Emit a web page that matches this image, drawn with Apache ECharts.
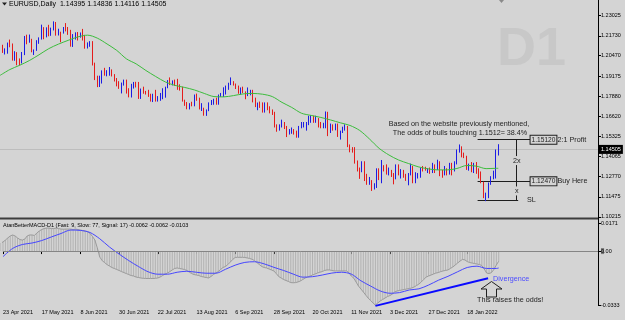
<!DOCTYPE html>
<html><head><meta charset="utf-8">
<script src="https://cdn.jsdelivr.net/npm/echarts@6/dist/echarts.min.js"></script>
<style>html,body{margin:0;padding:0;background:#d4d4d4;}#c{width:625px;height:320px;}</style>
</head><body><div id="c"></div>
<script>
// ---------- DATA ----------
const startDate = '2021-04-22', endDate = '2022-02-04';
const open = [
1.2036,1.2015,1.2097,1.2083,1.2089,1.2127,1.2122,
1.2020,1.2062,1.2016,1.2004,1.2066,1.2164,1.2131,1.2150,1.2075,1.2081,1.2142,1.2153,1.2222,1.2173,1.2226,1.2180,1.2213,1.2250,1.2193,1.2194,1.2190,
1.2226,1.2213,1.2211,1.2126,1.2166,1.2191,1.2172,1.2180,1.2174,1.2107,1.2121,1.2125,1.1995,1.1906,1.1864,1.1916,1.1940,1.1925,1.1930,1.1936,1.1925,1.1895,
1.1858,1.1848,1.1865,1.1866,1.1820,1.1790,1.1845,1.1875,1.1860,1.1775,1.1835,1.1810,1.1805,1.1800,1.1780,1.1795,1.1770,1.1772,1.1800,1.1817,1.1843,1.1888,
1.1870,1.1872,1.1868,1.1835,1.1833,1.1760,1.1736,1.1718,1.1739,1.1730,1.1796,1.1779,1.1710,1.1712,1.1675,1.1700,1.1745,1.1755,1.1770,1.1750,1.1795,1.1800,
1.1808,1.1840,1.1875,1.1880,1.1868,1.1840,1.1818,1.1826,1.1815,1.1805,1.1807,1.1820,1.1765,1.1725,1.1728,1.1722,1.1690,1.1740,1.1720,1.1695,1.1683,1.1595,
1.1580,1.1595,1.1620,1.1597,1.1555,1.1557,1.1570,1.1552,1.1530,1.1595,1.1600,1.1602,1.1610,1.1645,1.1655,1.1623,1.1645,1.1610,1.1600,1.1605,1.1680,
1.1560,1.1605,1.1580,1.1610,1.1555,1.1568,1.1590,1.1595,1.1480,1.1445,1.1442,1.1368,1.1320,1.1318,1.1370,1.1290,1.1235,1.1250,1.1200,1.1210,1.1317,1.1290,
1.1335,1.1320,1.1300,1.1315,1.1285,1.1265,1.1345,1.1290,1.1315,1.1285,1.1260,1.1290,1.1330,1.1240,1.1280,1.1285,1.1330,1.1328,1.1320,1.1328,1.1310,1.1350,1.1325,
1.1370,1.1295,1.1285,1.1310,1.1295,1.1360,1.1325,1.1365,1.1440,1.1455,1.1410,1.1405,1.1325,1.1345,1.1310,1.1345,1.1325,1.1300,1.1240,1.1145,1.1150,
1.1235,1.1270,1.1305,1.14395];
const high = [
1.2071,1.2100,1.2117,1.2094,1.2131,1.2150,1.2125,
1.2076,1.2070,1.2030,1.2071,1.2173,1.2181,1.2182,1.2155,1.2087,1.2146,1.2164,1.2245,1.2229,1.2228,1.2244,1.2226,1.2266,1.2262,1.2219,1.2200,1.2230,
1.2255,1.2230,1.2212,1.2185,1.2196,1.2198,1.2195,1.2218,1.2180,1.2132,1.2140,1.2140,1.2003,1.1920,1.1920,1.1954,1.1970,1.1955,1.1975,1.1960,1.1930,1.1905,
1.1885,1.1876,1.1895,1.1895,1.1840,1.1868,1.1880,1.1881,1.1880,1.1838,1.1850,1.1823,1.1830,1.1805,1.1805,1.1830,1.1790,1.1810,1.1840,1.1850,1.1892,1.1909,
1.1890,1.1895,1.1900,1.1865,1.1850,1.1767,1.1752,1.1745,1.1754,1.1800,1.1806,1.1780,1.1745,1.1716,1.1705,1.1750,1.1765,1.1773,1.1780,1.1800,1.1810,1.1846,
1.1857,1.1875,1.1909,1.1885,1.1870,1.1857,1.1845,1.1850,1.1820,1.1845,1.1830,1.1830,1.1780,1.1749,1.1755,1.1750,1.1750,1.1750,1.1725,1.1705,1.1690,1.1610,
1.1610,1.1640,1.1625,1.1600,1.1580,1.1590,1.1580,1.1570,1.1600,1.1625,1.1625,1.1625,1.1665,1.1668,1.1665,1.1665,1.1650,1.1625,1.1620,1.1692,1.1690,
1.1615,1.1610,1.1615,1.1615,1.1570,1.1595,1.1610,1.1600,1.1482,1.1465,1.1465,1.1380,1.1335,1.1375,1.1375,1.1295,1.1275,1.1255,1.1235,1.1330,1.1330,1.1383,
1.1350,1.1355,1.1335,1.1320,1.1300,1.1355,1.1355,1.1325,1.1320,1.1295,1.1300,1.1360,1.1345,1.1305,1.1300,1.1335,1.1345,1.1340,1.1330,1.1335,1.1365,1.1355,1.1385,
1.1375,1.1320,1.1345,1.1330,1.1365,1.1365,1.1375,1.1450,1.1482,1.1470,1.1430,1.1410,1.1360,1.1370,1.1365,1.1370,1.1330,1.1310,1.1245,1.1175,1.1240,
1.1280,1.1315,1.1450,1.14836];
const low = [
1.1995,1.2003,1.2065,1.2055,1.2060,1.2101,1.2016,
1.2015,1.1986,1.1985,1.1998,1.2051,1.2120,1.2130,1.2069,1.2052,1.2078,1.2123,1.2150,1.2152,1.2164,1.2171,1.2174,1.2208,1.2175,1.2176,1.2133,1.2188,
1.2202,1.2180,1.2105,1.2103,1.2150,1.2144,1.2162,1.2144,1.2092,1.2093,1.2104,1.1985,1.1892,1.1847,1.1848,1.1870,1.1920,1.1916,1.1920,1.1915,1.1883,1.1852,
1.1836,1.1807,1.1857,1.1806,1.1782,1.1781,1.1838,1.1845,1.1772,1.1772,1.1805,1.1800,1.1785,1.1755,1.1752,1.1755,1.1755,1.1760,1.1770,1.1780,1.1840,1.1860,
1.1858,1.1855,1.1830,1.1825,1.1755,1.1728,1.1706,1.1705,1.1725,1.1725,1.1760,1.1705,1.1695,1.1665,1.1664,1.1694,1.1733,1.1735,1.1735,1.1735,1.1785,1.1785,
1.1800,1.1830,1.1860,1.1857,1.1835,1.1805,1.1800,1.1810,1.1770,1.1790,1.1795,1.1750,1.1720,1.1700,1.1715,1.1685,1.1685,1.1700,1.1680,1.1670,1.1590,1.1563,
1.1570,1.1590,1.1580,1.1529,1.1545,1.1550,1.1545,1.1525,1.1525,1.1585,1.1590,1.1570,1.1605,1.1620,1.1620,1.1620,1.1590,1.1585,1.1585,1.1585,1.1535,
1.1555,1.1570,1.1572,1.1530,1.1513,1.1555,1.1570,1.1465,1.1432,1.1430,1.1360,1.1310,1.1263,1.1305,1.1249,1.1225,1.1225,1.1186,1.1195,1.1205,1.1255,1.1235,
1.1310,1.1290,1.1285,1.1275,1.1228,1.1260,1.1285,1.1265,1.1270,1.1250,1.1222,1.1285,1.1235,1.1235,1.1265,1.1270,1.1310,1.1315,1.1300,1.1295,1.1300,1.1300,1.1320,
1.1280,1.1270,1.1285,1.1285,1.1290,1.1285,1.1310,1.1355,1.1430,1.1400,1.1395,1.1320,1.1315,1.1305,1.1300,1.1295,1.1265,1.1235,1.1140,1.1121,1.1140,
1.1225,1.1260,1.1265,1.14116];
const close = [
1.2015,1.2097,1.2083,1.2089,1.2127,1.2122,1.2020,
1.2062,1.2016,1.2004,1.2066,1.2164,1.2131,1.2150,1.2075,1.2081,1.2142,1.2153,1.2222,1.2173,1.2226,1.2180,1.2213,1.2250,1.2193,1.2194,1.2190,1.2226,
1.2213,1.2211,1.2126,1.2166,1.2191,1.2172,1.2180,1.2174,1.2107,1.2121,1.2125,1.1995,1.1906,1.1864,1.1916,1.1940,1.1925,1.1930,1.1936,1.1925,1.1895,1.1858,
1.1848,1.1865,1.1866,1.1820,1.1790,1.1845,1.1875,1.1860,1.1775,1.1835,1.1810,1.1805,1.1800,1.1780,1.1795,1.1770,1.1772,1.1800,1.1817,1.1843,1.1888,1.1870,
1.1872,1.1868,1.1835,1.1833,1.1760,1.1736,1.1718,1.1739,1.1730,1.1796,1.1779,1.1710,1.1712,1.1675,1.1700,1.1745,1.1755,1.1770,1.1750,1.1795,1.1800,1.1808,
1.1840,1.1875,1.1880,1.1868,1.1840,1.1818,1.1826,1.1815,1.1805,1.1807,1.1820,1.1765,1.1725,1.1728,1.1722,1.1690,1.1740,1.1720,1.1695,1.1683,1.1595,1.1580,
1.1595,1.1620,1.1597,1.1555,1.1557,1.1570,1.1552,1.1530,1.1595,1.1600,1.1602,1.1610,1.1645,1.1655,1.1623,1.1645,1.1610,1.1600,1.1605,1.1680,1.1560,
1.1605,1.1580,1.1610,1.1555,1.1568,1.1590,1.1595,1.1480,1.1445,1.1442,1.1368,1.1320,1.1318,1.1370,1.1290,1.1235,1.1250,1.1200,1.1210,1.1317,1.1290,1.1335,
1.1320,1.1300,1.1315,1.1285,1.1265,1.1345,1.1290,1.1315,1.1285,1.1260,1.1290,1.1330,1.1240,1.1280,1.1285,1.1330,1.1328,1.1320,1.1328,1.1310,1.1350,1.1325,1.1370,
1.1295,1.1285,1.1310,1.1295,1.1360,1.1325,1.1365,1.1440,1.1455,1.1410,1.1405,1.1325,1.1345,1.1310,1.1345,1.1325,1.1300,1.1240,1.1145,1.1150,1.1235,
1.1270,1.1305,1.1440,1.14505];

// sampled indicator readings (moving average, MACD signal)
const sampleDates = ['2021-04-23','2021-04-29','2021-05-05','2021-05-11','2021-05-17','2021-05-21','2021-05-27','2021-06-02','2021-06-08','2021-06-14',
'2021-06-18','2021-06-24','2021-06-30','2021-07-06','2021-07-12','2021-07-16','2021-07-22','2021-07-28','2021-08-03','2021-08-09',
'2021-08-13','2021-08-19','2021-08-25','2021-08-31','2021-09-06','2021-09-10','2021-09-16','2021-09-22','2021-09-28','2021-10-04',
'2021-10-08','2021-10-14','2021-10-20','2021-10-26','2021-11-01','2021-11-05','2021-11-11','2021-11-17','2021-11-23','2021-11-29',
'2021-12-03','2021-12-09','2021-12-15','2021-12-21','2021-12-27','2021-12-31','2022-01-06','2022-01-12','2022-01-18','2022-01-24',
'2022-01-28','2022-02-03','2022-02-04'];
const maValues = [1.1922,1.1959,1.1986,1.2016,1.2053,1.2092,1.2121,1.2145,1.2167,1.2178,
1.2159,1.2122,1.2081,1.2027,1.1995,1.1953,1.1915,1.1880,1.1858,1.1845,
1.1829,1.1807,1.1787,1.1785,1.1793,1.1804,1.1807,1.1802,1.1787,1.1750,
1.1718,1.1681,1.1667,1.1654,1.1638,1.1620,1.1603,1.1571,1.1517,1.1457,
1.1415,1.1383,1.1361,1.1340,1.1327,1.1320,1.1320,1.1329,1.1348,1.1344,
1.1328,1.1330,1.1330];
const signalValues = [-0.0034,0.0016,0.0040,0.0049,0.0064,0.0086,0.0107,0.0128,0.0126,0.0113,
0.0075,0.0025,-0.0018,-0.0058,-0.0094,-0.0126,-0.0141,-0.0141,-0.0129,-0.0123,
-0.0129,-0.0135,-0.0135,-0.0111,-0.0086,-0.0069,-0.0065,-0.0078,-0.0099,-0.0118,
-0.0140,-0.0159,-0.0156,-0.0146,-0.0134,-0.0129,-0.0140,-0.0181,-0.0213,-0.0243,
-0.0257,-0.0253,-0.0237,-0.0230,-0.0207,-0.0178,-0.0154,-0.0126,-0.0100,-0.0092,
-0.0106,-0.0106,-0.0103];
const macdMain = [
0.0049,0.0055,0.0067,0.0080,0.0092,0.0098,0.0092,0.0080,0.0070,0.0067,
0.0073,0.0092,0.0098,0.0098,0.0095,0.0110,0.0122,0.0131,0.0137,0.0140,
0.0140,0.0137,0.0137,0.0140,0.0137,0.0134,0.0133,0.0134,0.0134,0.0134,
0.0131,0.0134,0.0131,0.0128,0.0125,0.0122,0.0118,0.0107,0.0089,0.0067,
0.0019,-0.0036,-0.0058,-0.0070,-0.0082,-0.0091,-0.0100,-0.0106,-0.0112,-0.0118,
-0.0125,-0.0131,-0.0137,-0.0143,-0.0149,-0.0152,-0.0158,-0.0161,-0.0164,-0.0166,
-0.0167,-0.0167,-0.0167,-0.0167,-0.0166,-0.0164,-0.0158,-0.0149,-0.0140,-0.0134,
-0.0125,-0.0115,-0.0106,-0.0103,-0.0106,-0.0109,-0.0112,-0.0118,-0.0128,-0.0137,
-0.0143,-0.0146,-0.0149,-0.0155,-0.0158,-0.0161,-0.0164,-0.0155,-0.0143,-0.0134,
-0.0125,-0.0112,-0.0100,-0.0094,-0.0082,-0.0067,-0.0051,-0.0039,-0.0038,-0.0038,
-0.0038,-0.0039,-0.0042,-0.0045,-0.0050,-0.0058,-0.0070,-0.0082,-0.0094,-0.0100,
-0.0103,-0.0109,-0.0115,-0.0121,-0.0137,-0.0155,-0.0164,-0.0173,-0.0179,-0.0185,
-0.0192,-0.0193,-0.0192,-0.0188,-0.0182,-0.0173,-0.0164,-0.0158,-0.0152,-0.0146,
-0.0140,-0.0134,-0.0129,-0.0125,-0.0118,-0.0115,-0.0115,-0.0118,-0.0121,-0.0121,
-0.0121,-0.0121,-0.0121,-0.0121,-0.0131,-0.0152,-0.0164,-0.0188,-0.0213,-0.0231,
-0.0249,-0.0268,-0.0286,-0.0301,-0.0316,-0.0329,-0.0316,-0.0304,-0.0295,-0.0286,
-0.0277,-0.0271,-0.0262,-0.0249,-0.0243,-0.0240,-0.0237,-0.0234,-0.0231,-0.0228,
-0.0225,-0.0219,-0.0210,-0.0201,-0.0188,-0.0173,-0.0158,-0.0152,-0.0146,-0.0140,
-0.0134,-0.0131,-0.0125,-0.0121,-0.0118,-0.0115,-0.0106,-0.0097,-0.0085,-0.0073,
-0.0061,-0.0051,-0.0054,-0.0064,-0.0070,-0.0073,-0.0076,-0.0079,-0.0082,-0.0088,
-0.0109,-0.0134,-0.0137,-0.0131,-0.0112,-0.0085,-0.0062];

const tickDates = ['2021-04-23','2021-05-17','2021-06-08','2021-06-30','2021-07-22','2021-08-13','2021-09-06','2021-09-28','2021-10-20','2021-11-11','2021-12-03','2021-12-27','2022-01-18'];
const priceTicks = [1.23025,1.21730,1.20470,1.19175,1.17880,1.16620,1.15325,1.14065,1.12770,1.11475,1.10215];
const macdTicks = [0.0171, 0, -0.0333];
const levels = {profit: 1.1512, buy: 1.1247, sl: 1.1125};
const divergence = [['2021-11-25', -0.0334], ['2022-01-28', -0.0166]];

// ---------- HELPERS ----------
function weekdays(a, b) {
  const out = []; const d = new Date(a + 'T00:00:00Z'); const e = new Date(b + 'T00:00:00Z');
  while (d <= e) { const w = d.getUTCDay(); if (w !== 0 && w !== 6) out.push(d.toISOString().slice(0, 10)); d.setUTCDate(d.getUTCDate() + 1); }
  return out;
}
const dates = weekdays(startDate, endDate);
const MON = ['Jan','Feb','Mar','Apr','May','Jun','Jul','Aug','Sep','Oct','Nov','Dec'];
const fmtDate = s => { const p = s.split('-'); return (+p[2]) + ' ' + MON[+p[1] - 1] + ' ' + p[0]; };
const idx = s => dates.indexOf(s);

const FONT = '"Liberation Sans", Arial, sans-serif';
const BG = '#d4d4d4';
const candleData = dates.map((d, i) => [i, open[i], close[i], low[i], high[i]]);
const maData = sampleDates.map((d, k) => [idx(d), maValues[k]]);
const sigData = sampleDates.map((d, k) => [idx(d), signalValues[k]]);
const macdData = macdMain.map((v, i) => [i, v]);
const tickIdx = tickDates.map(idx);
const last = dates.length - 1;

// x-range (bar index units) and annotation anchor positions
const X_MIN = 0.95, X_MAX = 247.05;
const LINE_START = 197.5, LINE_END = 219.3, V_LINE = 213.6, SL_END = 214.2;

const chart = echarts.init(document.getElementById('c'), null, {renderer: 'canvas', width: 625, height: 320});
const blk = '#1e1e1e';
const seg = (x1, y1, x2, y2) => [{coord: [x1, y1]}, {coord: [x2, y2]}];

chart.setOption({
  backgroundColor: BG, animation: false,
  textStyle: {fontFamily: FONT},
  grid: [{left: 0, top: 0, width: 598, height: 217}, {left: 0, top: 220, width: 598, height: 86}],
  xAxis: [
    {type: 'value', gridIndex: 0, min: X_MIN, max: X_MAX, axisLine: {show: false}, axisTick: {show: false}, axisLabel: {show: false}, splitLine: {show: false}},
    {type: 'value', gridIndex: 1, min: X_MIN, max: X_MAX, axisLine: {show: false}, splitLine: {show: false},
     axisTick: {show: true, customValues: tickIdx, length: 3, lineStyle: {color: '#000'}},
     axisLabel: {show: true, customValues: tickIdx, formatter: v => fmtDate(dates[Math.round(v)]), align: 'left', fontSize: 5.5, color: '#000', fontFamily: FONT, margin: 3}}
  ],
  yAxis: [
    {type: 'value', gridIndex: 0, position: 'right', min: 1.1020, max: 1.2402, axisLine: {show: false}, splitLine: {show: false},
     axisTick: {show: true, customValues: priceTicks, length: 3, lineStyle: {color: '#000'}},
     axisLabel: {customValues: priceTicks, formatter: v => v.toFixed(5), fontSize: 5.5, color: '#000', margin: 3, fontFamily: FONT}},
    {type: 'value', gridIndex: 1, position: 'right', min: -0.03346, max: 0.01892, axisLine: {show: false}, splitLine: {show: false},
     axisTick: {show: true, customValues: macdTicks, length: 3, lineStyle: {color: '#000'}},
     axisLabel: {customValues: macdTicks, formatter: v => v === 0 ? '{z|0}.00' : v.toFixed(4), fontSize: 5.5, color: '#000', margin: 3, fontFamily: FONT,
       rich: {z: {backgroundColor: '#7a7a7a', color: '#000', fontSize: 5.5, fontFamily: FONT}}}}
  ],
  series: [
    {type: 'candlestick', xAxisIndex: 0, yAxisIndex: 0, data: candleData, encode: {x: 0, y: [1, 2, 3, 4]}, barWidth: 1.2, z: 3,
     itemStyle: {color: '#1c1ce4', color0: '#e41c1c', borderColor: '#1c1ce4', borderColor0: '#e41c1c', borderWidth: 1},
     markLine: {silent: true, symbol: 'none', animation: false, label: {show: false}, z: 2,
       lineStyle: {color: blk, width: 1, type: 'solid'},
       data: [
         [{coord: [X_MIN, close[last]], lineStyle: {color: '#bdbdbd'}}, {coord: [X_MAX, close[last]]}],
         seg(LINE_START, levels.profit, LINE_END, levels.profit),
         seg(LINE_START, levels.buy, LINE_END, levels.buy),
         seg(LINE_START, levels.sl, SL_END, levels.sl),
         seg(V_LINE, levels.profit, V_LINE, levels.sl)
       ]}},
    {type: 'line', xAxisIndex: 0, yAxisIndex: 0, data: maData, showSymbol: false, smooth: 0.3, lineStyle: {color: '#3cbc3c', width: 1}, z: 4},
    {type: 'bar', xAxisIndex: 1, yAxisIndex: 1, data: macdData, barWidth: 1, itemStyle: {color: '#b2b2b2'},
     markLine: {silent: true, symbol: 'none', animation: false, label: {show: false}, lineStyle: {color: '#858585', width: 1, type: 'solid'}, data: [{yAxis: 0}]}},
    {type: 'line', xAxisIndex: 1, yAxisIndex: 1, data: macdData, showSymbol: false, lineStyle: {color: '#9a9a9a', width: 1}},
    {type: 'line', xAxisIndex: 1, yAxisIndex: 1, data: sigData, showSymbol: false, smooth: 0.3, lineStyle: {color: '#4646ff', width: 1},
     markLine: {silent: true, symbol: 'none', animation: false, label: {show: false}, lineStyle: {color: '#0a0aff', width: 2, type: 'solid'},
       data: [seg(idx(divergence[0][0]), divergence[0][1], idx(divergence[1][0]) + 0.6, divergence[1][1])]}}
  ]
});

// ---------- ANNOTATIONS ----------
const P = (g, x, y) => chart.convertToPixel({gridIndex: g}, [x, y]);
const txt = (x, y, text, o) => ({type: 'text', x: x, y: y, silent: true, z: 50,
  style: Object.assign({text: text, fill: '#1e1e1e', font: '7.2px ' + FONT, textAlign: 'left', textVerticalAlign: 'middle'}, (o || {}).style || {})});
const pProfit = P(0, LINE_END, levels.profit), pBuy = P(0, LINE_END, levels.buy), pSL = P(0, SL_END, levels.sl);
const pVTop = P(0, V_LINE, levels.profit), pVMid = P(0, V_LINE, levels.buy), pVBot = P(0, V_LINE, levels.sl);
const pBid = P(0, last, close[last]);
const f5 = v => v.toFixed(5);
const mLast = macdMain[last], sLast = signalValues[signalValues.length - 1];
const g = [
  {type: 'text', left: 497, top: 23, silent: true, z: 0, style: {text: 'D1', fill: '#c8c8c8', font: 'bold 54px ' + FONT}},
  {type: 'rect', shape: {x: 0, y: 217.5, width: 598, height: 2}, style: {fill: '#3c3c3c'}, silent: true, z: 40},
  {type: 'line', shape: {x1: 598.5, y1: 0, x2: 598.5, y2: 306}, style: {stroke: '#000', lineWidth: 1}, silent: true, z: 40},
  {type: 'polygon', shape: {points: [[2, 2.5], [7, 2.5], [4.5, 5.5]]}, style: {fill: '#202020'}, silent: true, z: 40},
  {type: 'polygon', shape: {points: [[499, 0], [504, 0], [501.5, 3]]}, style: {fill: '#8a8a8a'}, silent: true, z: 40},
  txt(9, 4.5, 'EURUSD,Daily  ' + [open[last], high[last], low[last], close[last]].map(f5).join(' '), {style: {fill: '#000', font: '7px ' + FONT}}),
  txt(3, 225, 'AtanBetterMACD-D1 (Fast: 9, Slow: 77, Signal: 17) ' + [mLast, mLast, sLast].map(v => v.toFixed(4)).join(' '), {style: {fill: '#000', font: '5.5px ' + FONT}}),
  txt(459, 124, 'Based on the website previously mentioned,', {style: {textAlign: 'center'}}),
  txt(460, 133, 'The odds of bulls touching ' + levels.profit + '= 38.4%', {style: {textAlign: 'center'}}),
  txt(pProfit[0], pProfit[1], f5(levels.profit), {style: {font: '6.6px ' + FONT, backgroundColor: BG, borderColor: '#1e1e1e', borderWidth: 1, padding: [1, 1, 0, 1]}}),
  txt(pBuy[0], pBuy[1], f5(levels.buy), {style: {font: '6.6px ' + FONT, backgroundColor: BG, borderColor: '#1e1e1e', borderWidth: 1, padding: [1, 1, 0, 1]}}),
  txt(557.5, pProfit[1], '2:1 Profit'),
  txt(557.5, pBuy[1], 'Buy Here'),
  txt(527, pSL[1], 'SL'),
  txt(pVTop[0], (pVTop[1] + pVMid[1]) / 2, '2x', {style: {textAlign: 'center', backgroundColor: BG, padding: [1, 0]}}),
  txt(pVMid[0], (pVMid[1] + pVBot[1]) / 2, 'x', {style: {textAlign: 'center', backgroundColor: BG, padding: [1, 0]}}),
  txt(599, pBid[1], f5(close[last]), {style: {fill: '#fff', font: '5.5px ' + FONT, backgroundColor: '#000', padding: [2, 2, 1, 2]}}),
  txt(493, 279, 'Divergence', {style: {fill: '#4b4bff'}}),
  {type: 'polygon', shape: {points: [[491.5, 281.5], [502, 289], [496.5, 289], [496.5, 297], [486.5, 297], [486.5, 289], [481, 289]]},
   style: {fill: 'none', stroke: '#202020', lineWidth: 1}, silent: true, z: 50},
  txt(477, 300.5, 'This raises the odds!')
];
chart.setOption({graphic: g});
</script></body></html>
